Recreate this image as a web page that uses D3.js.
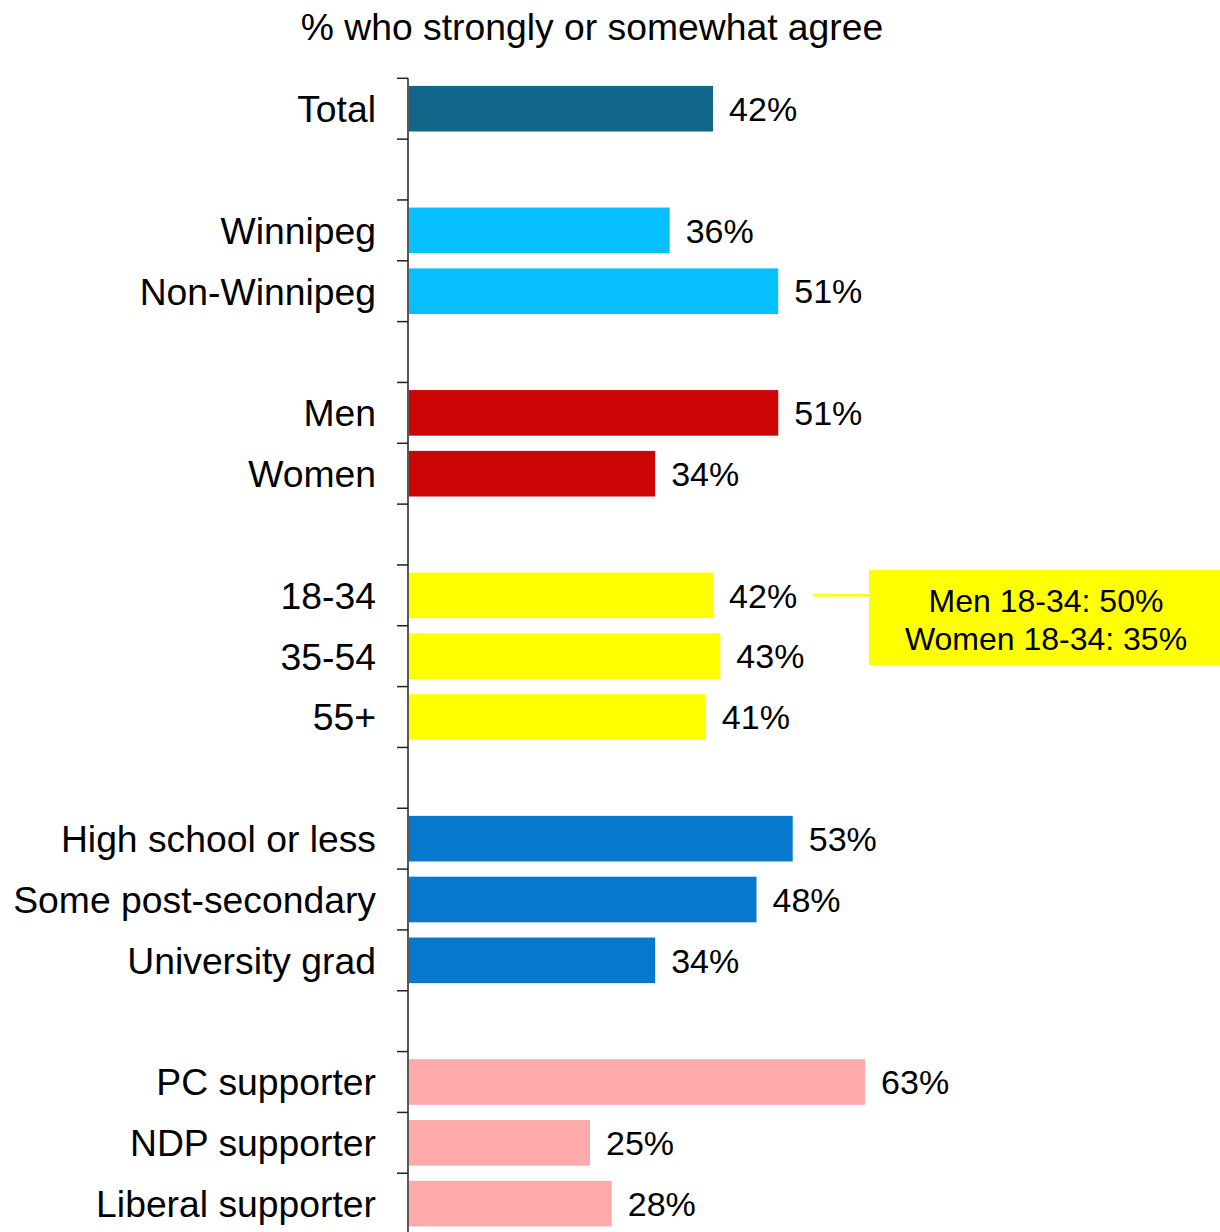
<!DOCTYPE html>
<html>
<head>
<meta charset="utf-8">
<script src="https://cdn.jsdelivr.net/npm/d3@7"></script>
<style>
  html, body { margin: 0; padding: 0; background: #ffffff; }
  svg { display: block; font-family: "Liberation Sans", Arial, sans-serif; }
</style>
</head>
<body>
<svg id="chart" width="1220" height="1232"></svg>
<script>
// ---- data ----
const title = "% who strongly or somewhat agree";
const categories = ["Total", "gap1", "Winnipeg", "Non-Winnipeg", "gap2", "Men", "Women", "gap3",
  "18-34", "35-54", "55+", "gap4", "High school or less", "Some post-secondary", "University grad",
  "gap5", "PC supporter", "NDP supporter", "Liberal supporter"];
const values = [42, null, 36, 51, null, 51, 34, null, 42, 43, 41, null, 53, 48, 34, null, 63, 25, 28];
const groups = ["total", null, "region", "region", null, "gender", "gender", null,
  "age", "age", "age", null, "edu", "edu", "edu", null, "party", "party", "party"];
const groupColors = { total: "#12668A", region: "#05BFFF", gender: "#CC0606", age: "#FFFF00", edu: "#0878CE", party: "#FFAAAA" };
const annotationLines = ["Men 18-34: 50%", "Women 18-34: 35%"];
const annotationCategory = "18-34";

// ---- layout ----
const svg = d3.select("#chart");
const axisX = 408;
const plotTop = 78.3;
const rowStep = 60.83;

const x = d3.scaleLinear().domain([0, 100]).range([axisX, axisX + 724]);
const y = d3.scaleBand().domain(categories)
  .range([plotTop, plotTop + rowStep * categories.length])
  .paddingInner(0.25).paddingOuter(0.125);

// title
svg.append("text")
  .attr("x", 592).attr("y", 40)
  .attr("text-anchor", "middle")
  .style("font-size", "37.3px").style("fill", "#000")
  .text(title);

const rows = categories.map((c, i) => ({ cat: c, value: values[i], group: groups[i] }));
const dataRows = rows.filter(d => d.value !== null);

// bars
svg.append("g").selectAll("rect").data(dataRows).join("rect")
  .attr("x", x(0) + 1)
  .attr("y", d => y(d.cat))
  .attr("width", d => x(d.value) - x(0))
  .attr("height", y.bandwidth())
  .attr("fill", d => groupColors[d.group]);

// axis line + ticks at band boundaries
const bounds = categories.map(c => y(c) - y.step() * y.paddingInner() / 2);
svg.append("line")
  .attr("x1", axisX).attr("x2", axisX)
  .attr("y1", bounds[0]).attr("y2", 1232)
  .attr("stroke", "#222").attr("stroke-width", 1.5);
svg.append("g").selectAll("line").data(bounds).join("line")
  .attr("x1", axisX - 11).attr("x2", axisX)
  .attr("y1", d => d).attr("y2", d => d)
  .attr("stroke", "#222").attr("stroke-width", 1.5);

// category labels
svg.append("g").selectAll("text").data(dataRows).join("text")
  .attr("x", 376)
  .attr("y", d => y(d.cat) + y.bandwidth() / 2)
  .attr("dy", "0.36em")
  .attr("text-anchor", "end")
  .style("font-size", "37.3px").style("fill", "#000")
  .text(d => d.cat);

// value labels
svg.append("g").selectAll("text").data(dataRows).join("text")
  .attr("x", d => x(d.value) + 17)
  .attr("y", d => y(d.cat) + y.bandwidth() / 2)
  .attr("dy", "0.36em")
  .style("font-size", "34px").style("fill", "#000")
  .text(d => d.value + "%");

// annotation
const ay = y(annotationCategory) + y.bandwidth() / 2;
svg.append("line")
  .attr("x1", 813).attr("x2", 869)
  .attr("y1", ay).attr("y2", ay)
  .attr("stroke", "#FFFF00").attr("stroke-width", 2.5);
svg.append("rect")
  .attr("x", 869).attr("y", 570).attr("width", 352).attr("height", 95)
  .attr("fill", "#FFFF00");
svg.append("g").selectAll("text").data(annotationLines).join("text")
  .attr("x", 1046)
  .attr("y", (d, i) => 600 + i * 38)
  .attr("dy", "0.36em")
  .attr("text-anchor", "middle")
  .style("font-size", "32px").style("fill", "#000")
  .text(d => d);
</script>
</body>
</html>
